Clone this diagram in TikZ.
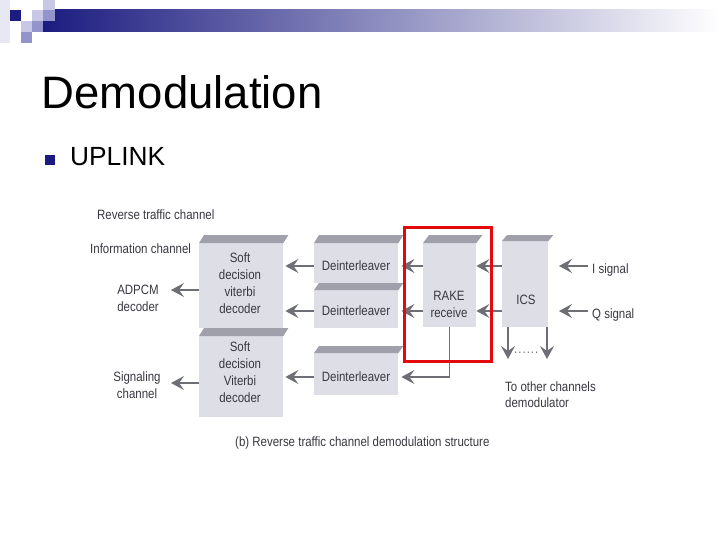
\documentclass[tikz,border=0pt]{standalone}
\usepackage{fontspec}
\setmainfont{Liberation Sans}
\newfontfamily\cond[FakeStretch=0.85]{Liberation Sans}
\usetikzlibrary{arrows.meta}
\definecolor{navy}{RGB}{28,28,128}
\definecolor{sqlight}{RGB}{200,200,230}
\definecolor{sqmed}{RGB}{148,148,204}
\definecolor{sqfaint}{RGB}{232,232,244}
\definecolor{barmid}{RGB}{170,170,188}
\definecolor{boxc}{RGB}{222,222,230}
\definecolor{bevc}{RGB}{160,160,170}
\definecolor{txtc}{RGB}{56,56,64}
\definecolor{arrc}{RGB}{110,110,118}
\definecolor{redc}{RGB}{226,10,10}
\begin{document}
\begin{tikzpicture}[x=1pt,y=-1pt,
  boxf/.style={fill=boxc, inner sep=0pt, anchor=north west},
  bev/.style={fill=bevc},
  dtxt/.style={font=\cond\fontsize{13.5}{16.7}\selectfont, text=txtc, inner sep=0pt, align=center},
  ltxt/.style={font=\cond\fontsize{13.5}{16.7}\selectfont, text=txtc, inner sep=0pt, anchor=base west},
  arr/.style={draw=arrc, line width=1.4pt, -{Stealth[length=13pt,width=14pt,inset=5pt]}},
  ln/.style={draw=arrc, line width=1.4pt}]
\useasboundingbox (0,0) rectangle (720,540);
\fill[white] (0,0) rectangle (720,540);
% header decoration
\fill[sqfaint] (0,0) rectangle (10,43);
\shade[left color=navy, middle color=barmid, right color=white] (43,10) rectangle (720,32);
\fill[navy] (10,10) rectangle (21,21);
\fill[sqlight] (32,10) rectangle (43,21);
\fill[sqlight] (43,0) rectangle (55,10);
\fill[sqmed] (43,10) rectangle (55,21);
\fill[sqlight] (21,21) rectangle (32,32);
\fill[sqmed] (32,21) rectangle (43,32);
\fill[sqmed] (21,32) rectangle (32,43);
% title
\node[anchor=base west, inner sep=0pt, font=\fontsize{45.5}{50}\selectfont] (title) at (41.5,109) {Demodulation};
\fill[navy] (45,155) rectangle (55,165);
\node[anchor=base west, inner sep=0pt, font=\fontsize{26.3}{30}\selectfont] (uplink) at (70,166) {UPLINK};
% boxes
\node[boxf, minimum width=84pt, minimum height=85pt] (dec1) at (199,243) {};
\fill[bev] (dec1.north west) -- ++(5,-8) -- ([shift={(5,-8)}]dec1.north east) -- (dec1.north east) -- cycle;
\node[boxf, minimum width=84pt, minimum height=81pt] (dec2) at (199,336) {};
\fill[bev] (dec2.north west) -- ++(5,-8) -- ([shift={(5,-8)}]dec2.north east) -- (dec2.north east) -- cycle;
\node[boxf, minimum width=84pt, minimum height=40pt] (dint1) at (314,243) {};
\fill[bev] (dint1.north west) -- ++(5,-8) -- ([shift={(5,-8)}]dint1.north east) -- (dint1.north east) -- cycle;
\node[boxf, minimum width=84pt, minimum height=38pt] (dint2) at (314,290) {};
\fill[bev] (dint2.north west) -- ++(5,-7) -- ([shift={(5,-7)}]dint2.north east) -- (dint2.north east) -- cycle;
\node[boxf, minimum width=84pt, minimum height=42pt] (dint3) at (314,353) {};
\fill[bev] (dint3.north west) -- ++(5,-7) -- ([shift={(5,-7)}]dint3.north east) -- (dint3.north east) -- cycle;
\node[boxf, minimum width=53pt, minimum height=84pt] (rake) at (423,243) {};
\fill[bev] (rake.north west) -- ++(6,-8) -- ([shift={(6,-8)}]rake.north east) -- (rake.north east) -- cycle;
\node[boxf, minimum width=46pt, minimum height=86pt] (ics) at (502,241) {};
\fill[bev] (ics.north west) -- ++(5,-6) -- ([shift={(5,-6)}]ics.north east) -- (ics.north east) -- cycle;
% box texts
\node[dtxt, anchor=north] (t-dec1) at (240,253) {Soft\\decision\\viterbi\\decoder};
\node[dtxt, anchor=north] (t-dec2) at (240,342) {Soft\\decision\\Viterbi\\decoder};
\node[dtxt, anchor=base] (t-dint1) at (356,270) {Deinterleaver};
\node[dtxt, anchor=base] (t-dint2) at (356,315) {Deinterleaver};
\node[dtxt, anchor=base] (t-dint3) at (356,381) {Deinterleaver};
\node[dtxt, anchor=north] (t-rake) at (449,291) {RAKE\\receive};
\node[dtxt, anchor=base] (t-ics) at (526,304) {ICS};
% outside texts
\node[ltxt] (rtc) at (97,219) {Reverse traffic channel};
\node[ltxt] (ich) at (90,254) {Information channel};
\node[dtxt, anchor=north] (adpcm) at (138,285) {ADPCM\\decoder};
\node[dtxt, anchor=north] (sig) at (137,372) {Signaling\\channel};
\node[ltxt] (isig) at (592,273) {I signal};
\node[ltxt] (qsig) at (592,318) {Q signal};
\node[ltxt, anchor=west, text=arrc] (dots) at (514,353) {.\kern1pt.\kern1pt.\kern1pt.\kern1pt.\kern1pt.};
\node[ltxt] (toc) at (505,391) {To other channels};
\node[ltxt] (demod) at (505,407) {demodulator};
\node[ltxt] (cap) at (235,446) {(b) Reverse traffic channel demodulation structure};
% helper coordinates
\coordinate (y1) at (0,266);
\coordinate (y2) at (0,311);
\coordinate (y3) at (0,377);
\coordinate (ya) at (0,290);
\coordinate (ys) at (0,383);
\coordinate (adpE) at (171,290);
\coordinate (sigE) at (171,383);
\coordinate (iE) at (559,266);
\coordinate (qE) at (559,311);
\coordinate (d1) at (508,359);
\coordinate (d2) at (547,359);
% connectors
\draw[arr] (isig.west |- y1) ++(-4,0) -- (iE);
\draw[arr] (qsig.west |- y2) ++(-4,0) -- (qE);
\draw[arr] (ics.west |- y1) -- (rake.east |- y1);
\draw[arr] (ics.west |- y2) -- (rake.east |- y2);
\draw[arr] (ics.south -| d1) -- (d1);
\draw[arr] (ics.south -| d2) -- (d2);
\draw[arr] (rake.west |- y1) -- ([xshift=3pt]dint1.east |- y1);
\draw[arr] (rake.west |- y2) -- ([xshift=3pt]dint2.east |- y2);
\draw[arr] (rake.south) -- (rake.south |- y3) -- ([xshift=3pt]dint3.east |- y3);
\draw[arr] (dint1.west |- y1) -- ([xshift=2pt]dec1.east |- y1);
\draw[arr] (dint2.west |- y2) -- ([xshift=2pt]dec1.east |- y2);
\draw[arr] (dint3.west |- y3) -- ([xshift=2pt]dec2.east |- y3);
\draw[arr] (dec1.west |- ya) -- (adpE);
\draw[arr] (dec2.west |- ys) -- (sigE);
% red highlight
\draw[redc, line width=3pt] (404,228) rectangle (491,361);
\end{tikzpicture}
\end{document}
